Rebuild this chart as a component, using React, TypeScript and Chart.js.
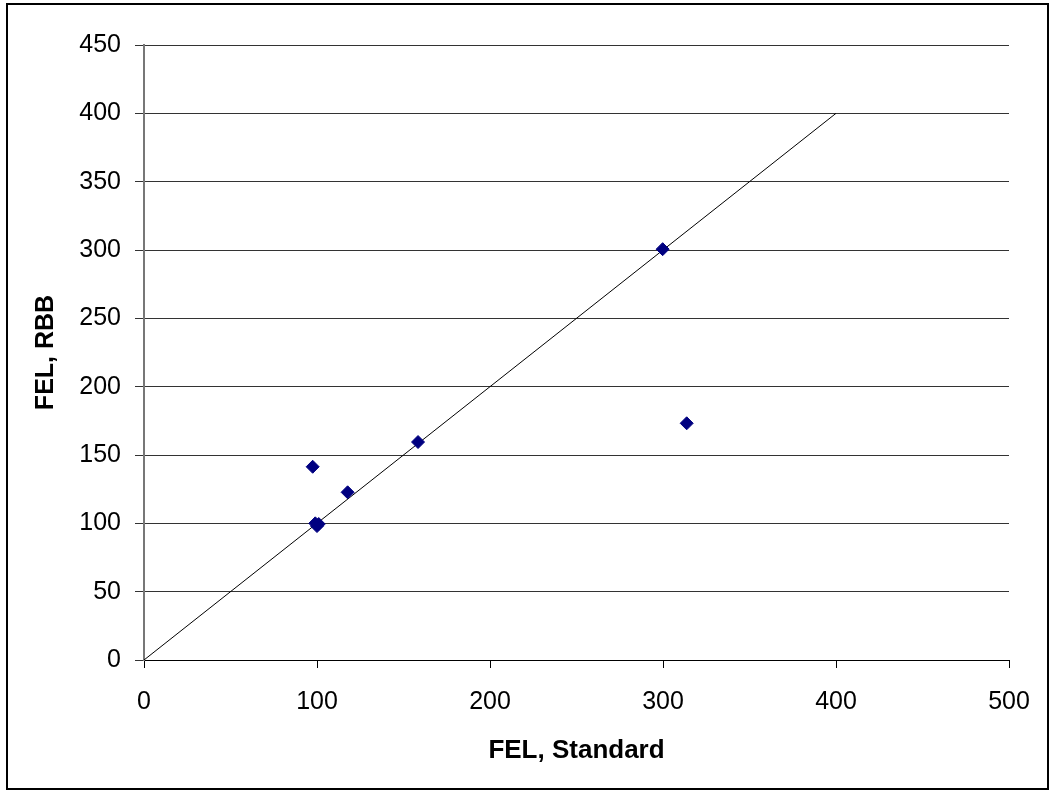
import React, { useEffect, useRef } from "react";
import { Chart, registerables } from "chart.js";

Chart.register(...registerables);

const xValues = [97.5, 99, 100, 101, 117.7, 158.4, 299.8, 313.7];
const yValues = [141.4, 100, 98, 99.5, 122.7, 159.5, 300.6, 173.2];
const refLineX = [0, 400];
const refLineY = [0, 400];
const xTitle = "FEL, Standard";
const yTitle = "FEL, RBB";

export default function App() {
  const canvasRef = useRef<HTMLCanvasElement | null>(null);

  useEffect(() => {
    const canvas = canvasRef.current;
    if (!canvas) return;
    const font = "'Liberation Sans', Arial, sans-serif";
    const chart = new Chart(canvas, {
      type: "scatter",
      data: {
        datasets: [
          {
            type: "scatter",
            data: xValues.map((x, i) => ({ x, y: yValues[i] })),
            pointStyle: "rectRot",
            pointRadius: 6.5,
            pointHoverRadius: 6.5,
            backgroundColor: "#000080",
            borderColor: "#000080",
            borderWidth: 1,
            order: 0,
          },
          {
            type: "line",
            data: refLineX.map((x, i) => ({ x, y: refLineY[i] })),
            borderColor: "#000000",
            borderWidth: 1,
            pointRadius: 0,
            fill: false,
            order: 1,
          } as any,
        ],
      },
      options: {
        animation: false,
        responsive: false,
        maintainAspectRatio: false,
        layout: { padding: { left: 0, right: 45, top: 45, bottom: 0 } },
        plugins: {
          legend: { display: false },
          tooltip: { enabled: false },
        },
        scales: {
          x: {
            type: "linear",
            min: 0,
            max: 500,
            afterFit: (s: any) => {
              s.height = 133;
            },
            ticks: {
              stepSize: 100,
              padding: 19,
              color: "#000",
              font: { family: font, size: 25 },
            },
            grid: {
              drawOnChartArea: false,
              drawTicks: true,
              tickLength: 8,
              color: "#000",
            },
            border: { display: true, color: "#000", width: 1 },
            title: {
              display: true,
              text: xTitle,
              color: "#000",
              font: { family: font, size: 26, weight: "bold" },
              padding: { top: 0, bottom: 27 },
            },
          },
          y: {
            type: "linear",
            min: 0,
            max: 450,
            afterFit: (s: any) => {
              s.width = 144;
            },
            ticks: {
              stepSize: 50,
              padding: 14,
              color: "#000",
              font: { family: font, size: 25 },
            },
            grid: {
              drawTicks: true,
              tickLength: 9,
              color: "#333",
              lineWidth: 1,
            },
            border: { display: true, color: "#777", width: 2 },
            title: {
              display: true,
              text: yTitle,
              color: "#000",
              font: { family: font, size: 25, weight: "bold" },
              padding: { top: 31, bottom: 0 },
            },
          },
        },
      },
    });
    return () => chart.destroy();
  }, []);

  return (
    <div style={{ position: "fixed", left: 0, top: 0, width: 1054, height: 793, background: "#fff" }}>
      <canvas ref={canvasRef} width={1054} height={793} style={{ position: "absolute", left: 0, top: 0 }} />
      <div
        style={{
          position: "absolute",
          left: 6,
          top: 3,
          width: 1039,
          height: 783,
          border: "2px solid #000",
          pointerEvents: "none",
        }}
      />
    </div>
  );
}
